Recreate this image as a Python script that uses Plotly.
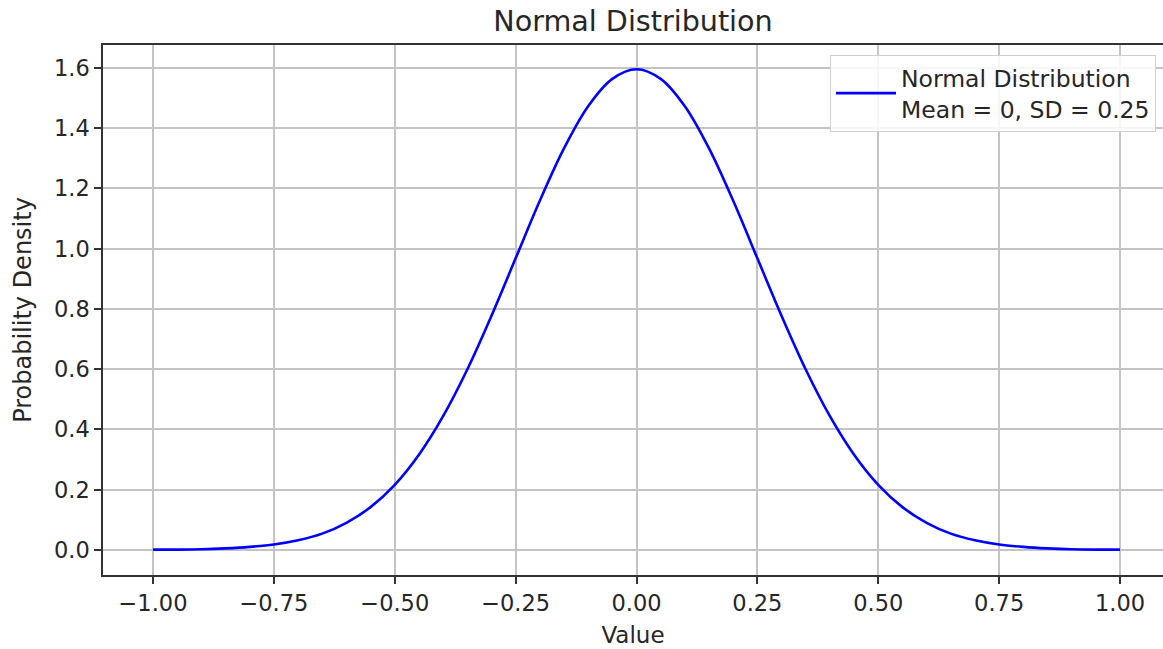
import plotly.graph_objects as go

# Sample points along the value axis
values = [-1.00, -0.95, -0.90, -0.85, -0.80, -0.75, -0.70, -0.65, -0.60, -0.55,
          -0.50, -0.45, -0.40, -0.35, -0.30, -0.25, -0.20, -0.15, -0.10, -0.05,
          0.00, 0.05, 0.10, 0.15, 0.20, 0.25, 0.30, 0.35, 0.40, 0.45,
          0.50, 0.55, 0.60, 0.65, 0.70, 0.75, 0.80, 0.85, 0.90, 0.95, 1.00]

# Probability density at each sample point (mean 0, SD 0.25)
density = [0.001, 0.001, 0.002, 0.005, 0.010, 0.018, 0.032, 0.054, 0.090, 0.142,
           0.216, 0.316, 0.444, 0.599, 0.777, 0.968, 1.159, 1.333, 1.473, 1.564,
           1.596, 1.564, 1.473, 1.333, 1.159, 0.968, 0.777, 0.599, 0.444, 0.316,
           0.216, 0.142, 0.090, 0.054, 0.032, 0.018, 0.010, 0.005, 0.002, 0.001, 0.001]

x_ticks = [-1.00, -0.75, -0.50, -0.25, 0.00, 0.25, 0.50, 0.75, 1.00]
y_ticks = [0.0, 0.2, 0.4, 0.6, 0.8, 1.0, 1.2, 1.4, 1.6]

FONT = "DejaVu Sans"
TEXT = "#262626"
GRID = "#c4c4c4"
SPINE = "#333333"
TICK_SIZE = 22.5

fig = go.Figure()
fig.add_trace(go.Scatter(
    x=values, y=density, mode="lines",
    line=dict(color="#0000ff", width=2.6, shape="spline", smoothing=1.0),
    name="Normal Distribution<br>Mean = 0, SD = 0.25",
    showlegend=True,
))

fig.update_layout(
    width=1163, height=649,
    margin=dict(l=103, r=0, t=45, b=74),
    paper_bgcolor="white", plot_bgcolor="white",
    font=dict(family=FONT, size=TICK_SIZE, color=TEXT),
    title=dict(text="Normal Distribution", x=0.5, xref="paper", xanchor="center",
               y=0.968, yref="container", yanchor="middle",
               font=dict(family=FONT, size=28.6, color=TEXT)),
    showlegend=True,
    legend=dict(x=0.9934, y=0.981, xanchor="right", yanchor="top",
                itemwidth=60,
                bgcolor="rgba(255,255,255,0.85)", bordercolor="#d0d0d0", borderwidth=1,
                font=dict(family=FONT, size=23.5, color=TEXT)),
)

fig.update_xaxes(
    range=[-1.1034, 1.0889], tickvals=x_ticks, tickformat=".2f",
    showgrid=True, gridcolor=GRID, gridwidth=1.5, zeroline=False,
    showline=True, linecolor=SPINE, linewidth=1.5, mirror=True,
    ticks="outside", ticklen=7, tickwidth=1.5, tickcolor=SPINE,
    tickfont=dict(family=FONT, size=TICK_SIZE, color=TEXT),
    title=dict(text="Value", font=dict(family=FONT, size=23, color=TEXT), standoff=12),
)
fig.update_yaxes(
    range=[-0.0833, 1.6763], tickvals=y_ticks, tickformat=".1f",
    showgrid=True, gridcolor=GRID, gridwidth=1.5, zeroline=False,
    showline=True, linecolor=SPINE, linewidth=1.5, mirror=False,
    ticks="outside", ticklen=7, tickwidth=1.5, tickcolor=SPINE,
    tickfont=dict(family=FONT, size=TICK_SIZE, color=TEXT),
    title=dict(text="Probability Density", font=dict(family=FONT, size=24, color=TEXT), standoff=16),
)

fig.write_html("out.html")
